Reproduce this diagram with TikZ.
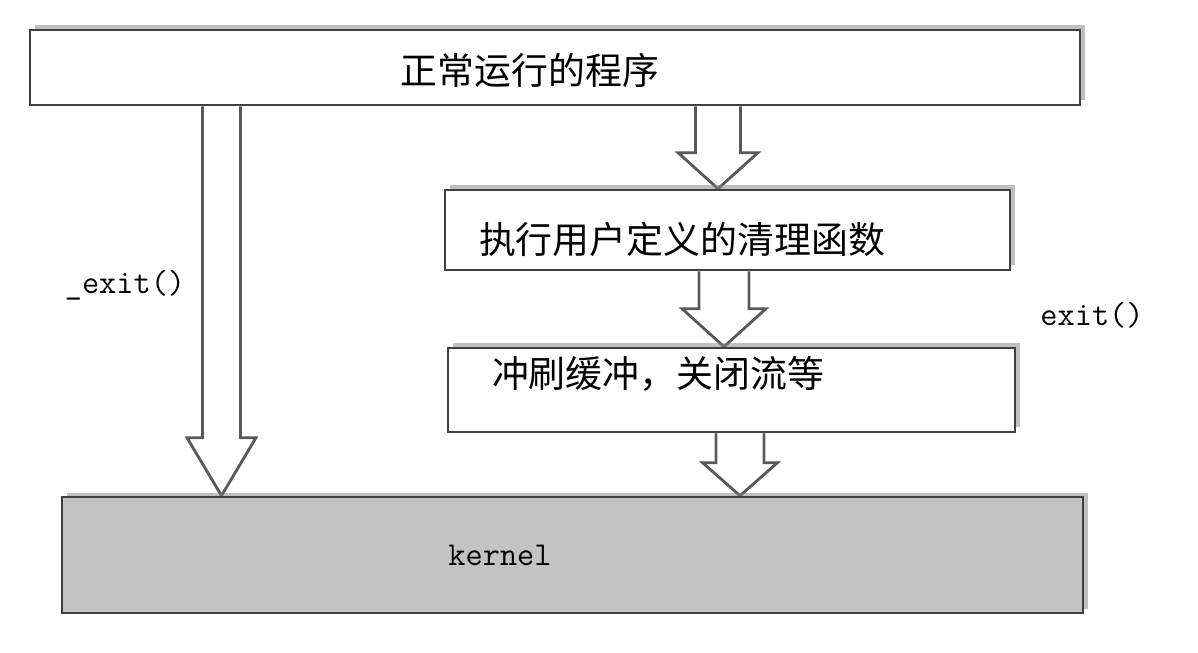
\documentclass[tikz,border=0pt]{standalone}
\usepackage{fontspec}
\newfontfamily\cjk{Noto Sans CJK SC}
\usetikzlibrary{positioning,shadows,backgrounds}
\definecolor{kgray}{RGB}{195,195,195}
\tikzset{
 box/.style={draw=black!75,line width=1.5pt,fill=white,inner sep=0pt,
  drop shadow={shadow xshift=0.9mm,shadow yshift=0.9mm,opacity=0.5}},
 zh/.style={font=\cjk\fontsize{21pt}{25pt}\selectfont,inner sep=0pt},
 code/.style={font=\ttfamily\fontsize{19pt}{23pt}\selectfont,inner sep=0pt},
 fatarr/.style={draw=black!65,line width=1.6pt,fill=white,line join=miter}
}
\begin{document}
\begin{tikzpicture}
 \useasboundingbox (0,0) rectangle (23.96,-13.06);
 % boxes
 \node[box,minimum width=21cm,minimum height=1.5cm] (prog) at (11.1,-1.35) {};
 \node[box,minimum width=11.3cm,minimum height=1.6cm] (clean) at (14.55,-4.6) {};
 \node[box,minimum width=11.34cm,minimum height=1.68cm] (flush) at (14.63,-7.8) {};
 \node[box,fill=kgray,minimum width=20.42cm,minimum height=2.32cm] (kern) at (11.45,-11.1) {};
 % texts
 \node[zh] (tprog) at ([xshift=-0.5cm,yshift=-0.05cm]prog.center) {正常运行的程序};
 \node[zh,anchor=west] (tclean) at ([xshift=0.7cm,yshift=-0.18cm]clean.west) {执行用户定义的清理函数};
 \node[zh,anchor=west] (tflush) at ([xshift=0.9cm,yshift=0.32cm]flush.west) {冲刷缓冲，关闭流等};
 \node[code] (tkern) at ([xshift=-1.45cm]kern.center) {kernel};
 \node[code] (lexit) at (2.5,-5.7) {\_exit()};
 \node[code] (rexit) at (21.84,-6.3) {exit()};
 % arrow ends
 \coordinate (l1) at (prog.south -| 4.43,0); \coordinate (l2) at (kern.north -| 4.43,0);
 \coordinate (r1) at (prog.south -| 14.36,0); \coordinate (r2) at (clean.north -| 14.36,0);
 \coordinate (r3) at (clean.south -| 14.48,0); \coordinate (r4) at (flush.north -| 14.48,0);
 \coordinate (r5) at (flush.south -| 14.8,0); \coordinate (r6) at (kern.north -| 14.8,0);
 \begin{scope}[on background layer]
 \foreach \s/\e/\w/\h/\l in {l1/l2/0.38/0.69/1.16,r1/r2/0.45/0.8/0.72,
   r3/r4/0.5/0.84/0.76,r5/r6/0.48/0.75/0.66}{
  \draw[fatarr] ([xshift=-\w cm]\s) -- ([xshift=-\w cm,yshift=\l cm]\e)
   -- ([xshift=-\h cm,yshift=\l cm]\e) -- (\e) -- ([xshift=\h cm,yshift=\l cm]\e)
   -- ([xshift=\w cm,yshift=\l cm]\e) -- ([xshift=\w cm]\s);}
 \end{scope}
\end{tikzpicture}
\end{document}
